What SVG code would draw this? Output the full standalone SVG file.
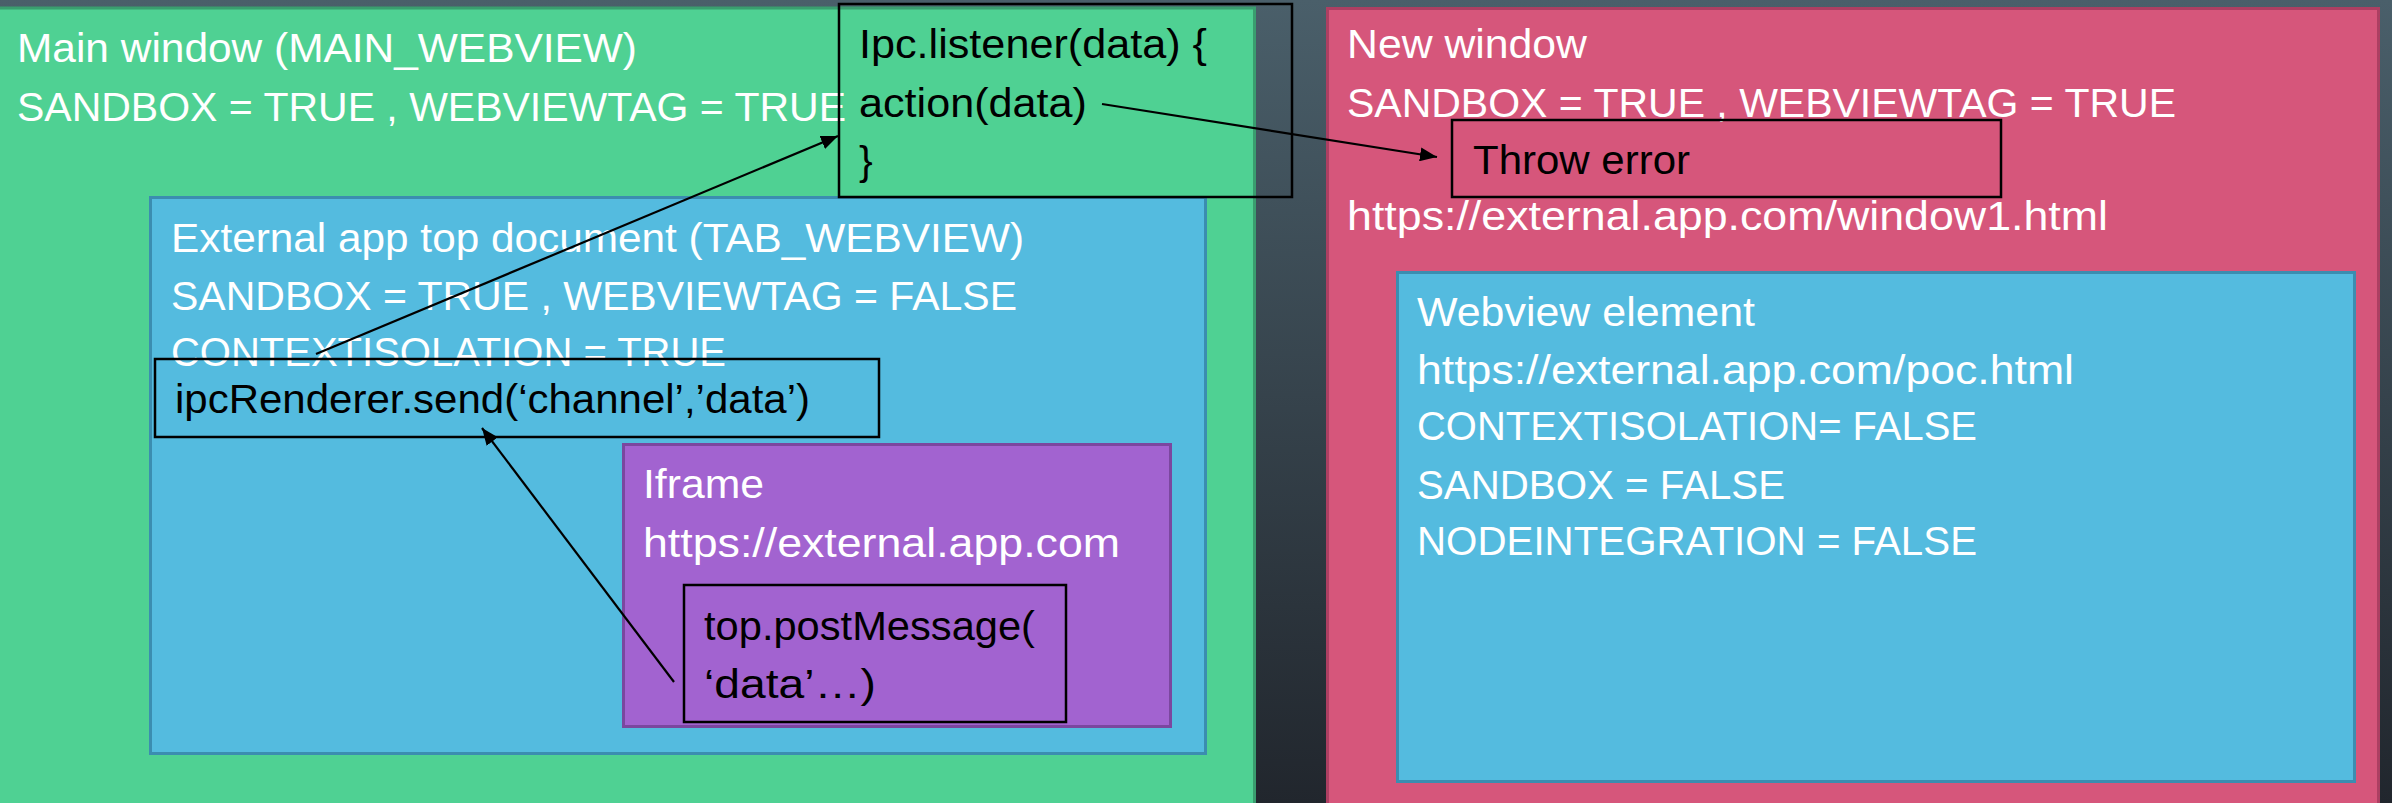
<svg xmlns="http://www.w3.org/2000/svg" width="2392" height="803" viewBox="0 0 2392 803">
  <defs>
    <linearGradient id="bg" x1="0" y1="0" x2="0" y2="1">
      <stop offset="0" stop-color="#4a5f6a"/>
      <stop offset="1" stop-color="#21262d"/>
    </linearGradient>
    <marker id="arrow" markerUnits="userSpaceOnUse" markerWidth="18" markerHeight="14" refX="17" refY="7" orient="auto">
      <path d="M0,0 L17,7 L0,14 z" fill="#000"/>
    </marker>
    <style>
      .t { font-family: "Liberation Sans", Arial, sans-serif; font-size: 41px; }
      .w { fill: #ffffff; }
      .k { fill: #000000; }
      .code { fill: none; stroke: #000; stroke-width: 2.5; }
      .conn { fill: none; stroke: #000; stroke-width: 2.2; marker-end: url(#arrow); }
    </style>
  </defs>

  <!-- backdrop -->
  <rect x="0" y="0" width="2392" height="803" fill="url(#bg)"/>

  <!-- main window -->
  <g id="main-window">
    <rect x="-2" y="8" width="1256.5" height="800" fill="#4fd193" stroke="#3a9e6f" stroke-width="3"/>
    <text class="t w" x="17" y="62" textLength="620" lengthAdjust="spacingAndGlyphs">Main window (MAIN_WEBVIEW)</text>
    <text class="t w" x="17" y="121" textLength="829" lengthAdjust="spacingAndGlyphs">SANDBOX = TRUE , WEBVIEWTAG = TRUE</text>
  </g>

  <!-- tab webview inside the main window -->
  <g id="tab-webview">
    <rect x="150.5" y="197.5" width="1055" height="556" fill="#54bbdf" stroke="#3b8db0" stroke-width="3"/>
    <text class="t w" x="171" y="252" textLength="853" lengthAdjust="spacingAndGlyphs">External app top document (TAB_WEBVIEW)</text>
    <text class="t w" x="171" y="310" textLength="846" lengthAdjust="spacingAndGlyphs">SANDBOX = TRUE , WEBVIEWTAG = FALSE</text>
    <text class="t w" x="171" y="366" textLength="555" lengthAdjust="spacingAndGlyphs">CONTEXTISOLATION = TRUE</text>
  </g>

  <g id="ipc-renderer">
    <rect class="code" x="155" y="359" width="724" height="78"/>
    <text class="t k" x="175" y="413" textLength="635" lengthAdjust="spacingAndGlyphs">ipcRenderer.send(‘channel’,’data’)</text>
  </g>

  <!-- iframe -->
  <g id="iframe">
    <rect x="623.5" y="444.5" width="547" height="282" fill="#a263d0" stroke="#7b479f" stroke-width="3"/>
    <text class="t w" x="643" y="498" textLength="121" lengthAdjust="spacingAndGlyphs">Iframe</text>
    <text class="t w" x="643" y="557" textLength="477" lengthAdjust="spacingAndGlyphs">https://external.app.com</text>
  </g>

  <g id="post-message">
    <rect class="code" x="684" y="585" width="382" height="137"/>
    <text class="t k" x="704" y="640" textLength="331" lengthAdjust="spacingAndGlyphs">top.postMessage(</text>
    <text class="t k" x="704" y="698" textLength="172" lengthAdjust="spacingAndGlyphs">‘data’…)</text>
  </g>

  <!-- new window -->
  <g id="new-window">
    <rect x="1327.5" y="8.5" width="1051" height="800" fill="#d6567b" stroke="#ad3f62" stroke-width="3"/>
    <text class="t w" x="1347" y="58" textLength="240" lengthAdjust="spacingAndGlyphs">New window</text>
    <text class="t w" x="1347" y="117" textLength="829" lengthAdjust="spacingAndGlyphs">SANDBOX = TRUE , WEBVIEWTAG = TRUE</text>
    <text class="t w" x="1347" y="230" textLength="761" lengthAdjust="spacingAndGlyphs">https://external.app.com/window1.html</text>
  </g>

  <g id="throw-error">
    <rect class="code" x="1452" y="120" width="549" height="77"/>
    <text class="t k" x="1473" y="174" textLength="217" lengthAdjust="spacingAndGlyphs">Throw error</text>
  </g>

  <g id="webview-element">
    <rect x="1397.5" y="272.5" width="957" height="509" fill="#54bbdf" stroke="#3b8db0" stroke-width="3"/>
    <text class="t w" x="1417" y="326" textLength="338" lengthAdjust="spacingAndGlyphs">Webview element</text>
    <text class="t w" x="1417" y="384" textLength="657" lengthAdjust="spacingAndGlyphs">https://external.app.com/poc.html</text>
    <text class="t w" x="1417" y="440" textLength="560" lengthAdjust="spacingAndGlyphs">CONTEXTISOLATION= FALSE</text>
    <text class="t w" x="1417" y="499" textLength="368" lengthAdjust="spacingAndGlyphs">SANDBOX = FALSE</text>
    <text class="t w" x="1417" y="555" textLength="560" lengthAdjust="spacingAndGlyphs">NODEINTEGRATION = FALSE</text>
  </g>

  <!-- listener box (transparent, drawn above the window edges) -->
  <g id="ipc-listener">
    <rect class="code" x="839" y="4" width="453" height="193"/>
    <text class="t k" x="859" y="58" textLength="348" lengthAdjust="spacingAndGlyphs">Ipc.listener(data) {</text>
    <text class="t k" x="859" y="117" textLength="228" lengthAdjust="spacingAndGlyphs">action(data)</text>
    <text class="t k" x="859" y="175">}</text>
  </g>

  <!-- message flow -->
  <g id="connectors">
    <line class="conn" x1="674" y1="682" x2="482" y2="428"/>
    <line class="conn" x1="316" y1="354" x2="838" y2="136"/>
    <line class="conn" x1="1102" y1="104" x2="1437" y2="157"/>
  </g>
</svg>
